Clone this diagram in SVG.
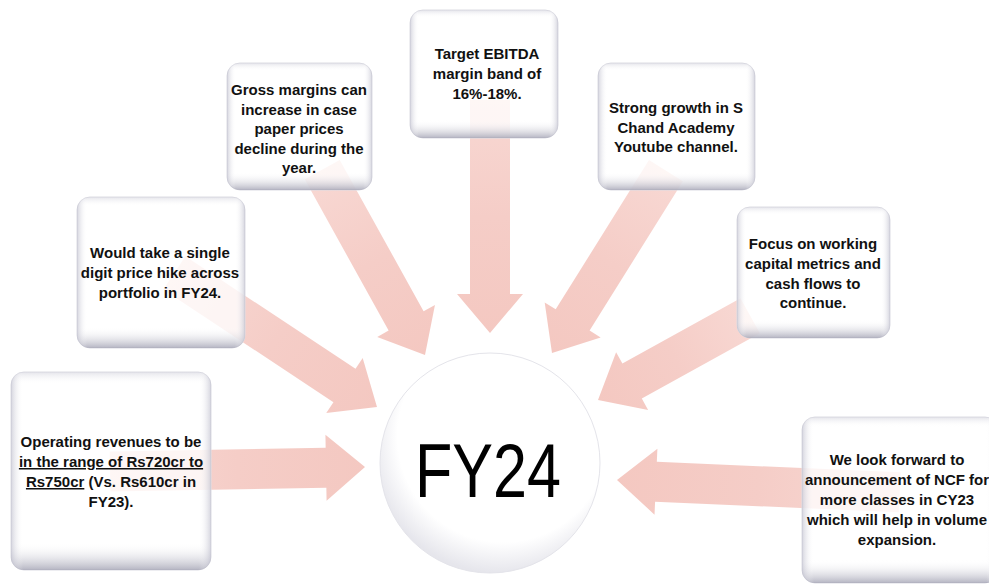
<svg xmlns="http://www.w3.org/2000/svg" width="989" height="587" viewBox="0 0 989 587">
<defs>
<linearGradient id="arrowGrad" x1="0" y1="0" x2="1" y2="0">
<stop offset="0" stop-color="#f8d8d3"/>
<stop offset="0.5" stop-color="#f5cdc7"/>
<stop offset="1" stop-color="#f4c8c1"/>
</linearGradient>
<linearGradient id="vEdge" x1="0" y1="0" x2="0" y2="1">
<stop offset="0" stop-color="#d2d2dc" stop-opacity="0.6"/>
<stop offset="0.06" stop-color="#ffffff" stop-opacity="0"/>
<stop offset="0.86" stop-color="#ffffff" stop-opacity="0"/>
<stop offset="1" stop-color="#9c9cae" stop-opacity="0.75"/>
</linearGradient>
<linearGradient id="hEdge" x1="0" y1="0" x2="1" y2="0">
<stop offset="0" stop-color="#b8b8c8" stop-opacity="0.6"/>
<stop offset="0.06" stop-color="#ffffff" stop-opacity="0"/>
<stop offset="0.94" stop-color="#ffffff" stop-opacity="0"/>
<stop offset="1" stop-color="#b8b8c8" stop-opacity="0.6"/>
</linearGradient>
<radialGradient id="circGrad" cx="0.55" cy="0.4" r="0.6" fx="0.6" fy="0.3">
<stop offset="0" stop-color="#ffffff"/>
<stop offset="0.8" stop-color="#ffffff"/>
<stop offset="1" stop-color="#e6e6ec"/>
</radialGradient>
</defs>
<style>
.arrow { fill: url(#arrowGrad); }
.box { fill: #ffffff; fill-opacity: 0.78; stroke: #dcdce3; stroke-width: 1; }
.ve { fill: url(#vEdge); }
.he { fill: url(#hEdge); }
.t { font-family: "Liberation Sans", Arial, sans-serif; font-weight: bold; font-size: 15px; fill: #111111; text-anchor: middle; }
.u { text-decoration: underline; }
.big { font-family: "Liberation Sans", Arial, sans-serif; font-size: 76px; fill: #000000; }
</style>
<rect width="989" height="587" fill="#ffffff"/>

<g id="connectors">
<path class="arrow" transform="translate(365,467) rotate(-1)" d="M-255,-20 L-39,-20 L-39,-33 L0,0 L-39,33 L-39,20 L-255,20 Z"/>
<path class="arrow" transform="translate(377,407) rotate(33.5)" d="M-243,-20 L-39,-20 L-39,-33 L0,0 L-39,33 L-39,20 L-243,20 Z"/>
<path class="arrow" transform="translate(425,355) rotate(61)" d="M-212,-20 L-39,-20 L-39,-33 L0,0 L-39,33 L-39,20 L-212,20 Z"/>
<path class="arrow" transform="translate(490,333) rotate(90)" d="M-233,-20 L-39,-20 L-39,-33 L0,0 L-39,33 L-39,20 L-233,20 Z"/>
<path class="arrow" transform="translate(552,353) rotate(122)" d="M-215,-20 L-39,-20 L-39,-33 L0,0 L-39,33 L-39,20 L-215,20 Z"/>
<path class="arrow" transform="translate(598,400) rotate(151)" d="M-174,-20 L-39,-20 L-39,-33 L0,0 L-39,33 L-39,20 L-174,20 Z"/>
<path class="arrow" transform="translate(617,480) rotate(182.5)" d="M-283,-20 L-39,-20 L-39,-33 L0,0 L-39,33 L-39,20 L-283,20 Z"/>
</g>

<g id="center">
<circle cx="490" cy="463" r="110" fill="url(#circGrad)" stroke="#e4e4ea" stroke-width="1"/>
<text class="big" x="415" y="497" textLength="146" lengthAdjust="spacingAndGlyphs">FY24</text>
</g>

<g id="box-revenue">
<rect class="box" x="11" y="372" width="200" height="198" rx="13"/>
<rect class="ve" x="11" y="372" width="200" height="198" rx="13"/>
<rect class="he" x="11" y="372" width="200" height="198" rx="13"/>
<text class="t" x="111" y="447">Operating revenues to be</text>
<text class="t" x="111" y="467"><tspan class="u">in the range of Rs720cr to</tspan></text>
<text class="t" x="111" y="487"><tspan class="u">Rs750cr</tspan> (Vs. Rs610cr in</text>
<text class="t" x="111" y="507">FY23).</text>
</g>

<g id="box-price">
<rect class="box" x="77" y="197" width="168" height="151" rx="13"/>
<rect class="ve" x="77" y="197" width="168" height="151" rx="13"/>
<rect class="he" x="77" y="197" width="168" height="151" rx="13"/>
<text class="t" x="160" y="258">Would take a single</text>
<text class="t" x="160" y="278">digit price hike across</text>
<text class="t" x="160" y="298">portfolio in FY24.</text>
</g>

<g id="box-gross">
<rect class="box" x="227" y="63" width="145" height="127" rx="13"/>
<rect class="ve" x="227" y="63" width="145" height="127" rx="13"/>
<rect class="he" x="227" y="63" width="145" height="127" rx="13"/>
<text class="t" x="299" y="95">Gross margins can</text>
<text class="t" x="299" y="115">increase in case</text>
<text class="t" x="299" y="134">paper prices</text>
<text class="t" x="299" y="154">decline during the</text>
<text class="t" x="299" y="173">year.</text>
</g>

<g id="box-ebitda">
<rect class="box" x="410" y="10" width="148" height="128" rx="13"/>
<rect class="ve" x="410" y="10" width="148" height="128" rx="13"/>
<rect class="he" x="410" y="10" width="148" height="128" rx="13"/>
<text class="t" x="487" y="59">Target EBITDA</text>
<text class="t" x="487" y="79">margin band of</text>
<text class="t" x="487" y="99">16%-18%.</text>
</g>

<g id="box-youtube">
<rect class="box" x="598" y="63" width="157" height="127" rx="13"/>
<rect class="ve" x="598" y="63" width="157" height="127" rx="13"/>
<rect class="he" x="598" y="63" width="157" height="127" rx="13"/>
<text class="t" x="676" y="113">Strong growth in S</text>
<text class="t" x="676" y="133">Chand Academy</text>
<text class="t" x="676" y="152">Youtube channel.</text>
</g>

<g id="box-capital">
<rect class="box" x="737" y="207" width="153" height="131" rx="13"/>
<rect class="ve" x="737" y="207" width="153" height="131" rx="13"/>
<rect class="he" x="737" y="207" width="153" height="131" rx="13"/>
<text class="t" x="813" y="249">Focus on working</text>
<text class="t" x="813" y="269">capital metrics and</text>
<text class="t" x="813" y="289">cash flows to</text>
<text class="t" x="813" y="308">continue.</text>
</g>

<g id="box-ncf">
<rect class="box" x="802" y="417" width="196" height="166" rx="13"/>
<rect class="ve" x="802" y="417" width="196" height="166" rx="13"/>
<rect class="he" x="802" y="417" width="196" height="166" rx="13"/>
<text class="t" x="897" y="465">We look forward to</text>
<text class="t" x="897" y="485">announcement of NCF for</text>
<text class="t" x="897" y="505">more classes in CY23</text>
<text class="t" x="897" y="525">which will help in volume</text>
<text class="t" x="897" y="545">expansion.</text>
</g>
</svg>
